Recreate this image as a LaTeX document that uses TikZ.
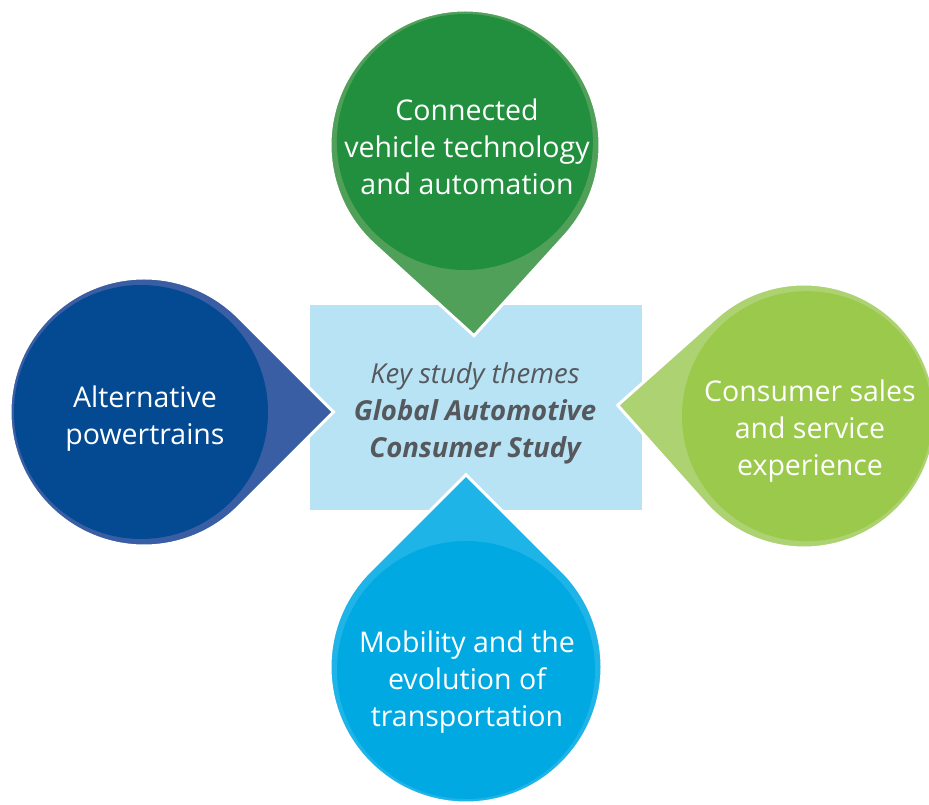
\documentclass[tikz,border=0pt]{standalone}
\usepackage{fontspec}
\setmainfont{Open Sans}
\usepackage{tikz}
\usetikzlibrary{positioning}
\definecolor{greenring}{RGB}{81,160,90}
\definecolor{greencore}{RGB}{33,143,61}
\definecolor{bluering}{RGB}{58,94,163}
\definecolor{bluecore}{RGB}{3,74,147}
\definecolor{limering}{RGB}{173,210,113}
\definecolor{limecore}{RGB}{155,201,75}
\definecolor{skyring}{RGB}{30,180,232}
\definecolor{skycore}{RGB}{0,169,226}
\definecolor{panel}{RGB}{183,227,245}
\definecolor{themegray}{RGB}{85,88,92}
\tikzset{x=1pt, y=1pt, font=\fontsize{28.5}{37}\selectfont}
\tikzstyle{theme} = [text=white, align=center, inner sep=0pt]
\tikzstyle{core} = [align=center, text=themegray, inner sep=0pt]
\tikzstyle{ring} = [draw=white, line width=3pt, line join=miter]
% drop: centre, radius, direction of the tip, ring colour, core colour
\newcommand{\themedrop}[5]{
	\begin{scope}[shift={#1}, rotate=#3]
		\filldraw [ring, fill=#4] ({1.4142*#2},0) -- (45:#2) arc [start angle=45, end angle=315, radius=#2] -- cycle;
		\fill [#5] (-3,0) circle [radius=#2-7];
	\end{scope}
}

\begin{document}
\begin{tikzpicture}
		\useasboundingbox (0,0) rectangle (929,805);

		\fill [panel] (310,295) rectangle (642,500);

		\themedrop{(465,660)}{135}{272.7}{greenring}{greencore}
		\themedrop{(144,393)}{134}{0}{bluering}{bluecore}
		\themedrop{(804,389)}{132}{176.7}{limering}{limecore}
		\themedrop{(466,138)}{136}{90}{skyring}{skycore}

		\node [core, font=\fontsize{27.5}{37}\selectfont] (themes) at (475,392) {\itshape Key study themes\\\bfseries\itshape Global Automotive\\\bfseries\itshape Consumer Study};

		\node [theme] (conn) at (467,658) {Connected\\vehicle technology\\and automation};
		\node [theme] (alt) at (145,386) {Alternative\\powertrains};
		\node [theme] (sales) at (810,374) {Consumer sales\\and service\\experience};
		\node [theme] (mob) at (467,123) {Mobility and the\\evolution of\\transportation};

	\end{tikzpicture}
\end{document}
